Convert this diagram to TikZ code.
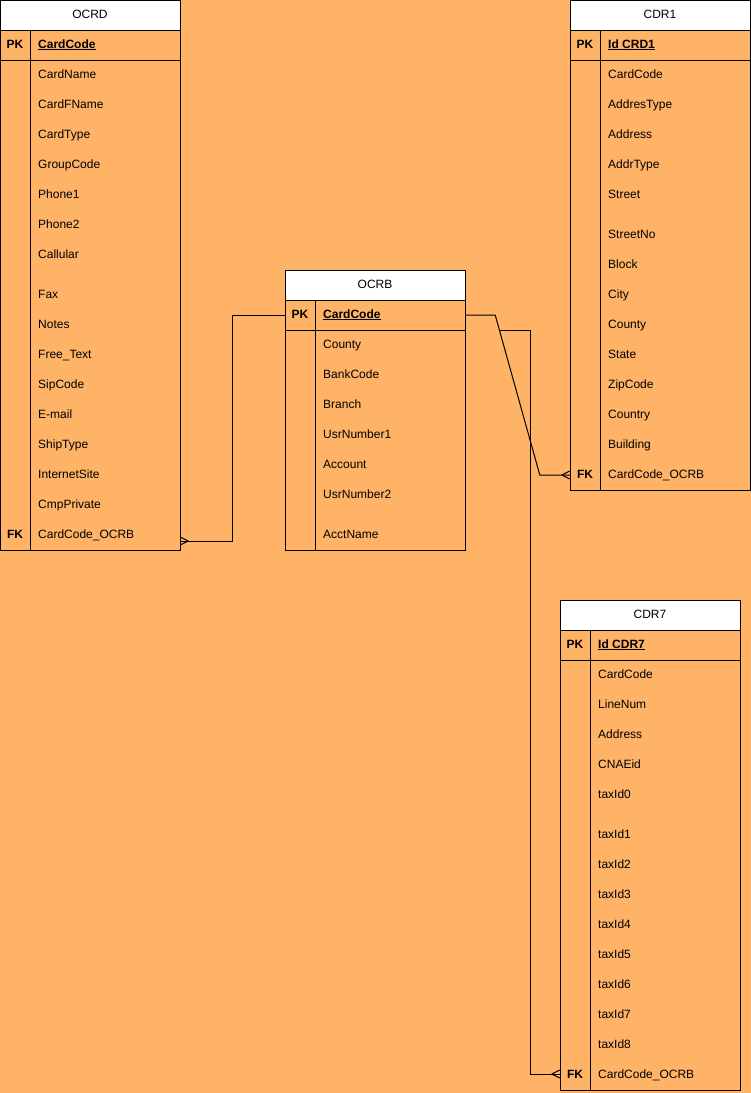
\documentclass[tikz,border=0pt]{standalone}
\usepackage{fontspec}
\setmainfont{Liberation Sans}
\usetikzlibrary{calc}
\definecolor{bgorange}{HTML}{FFB366}
\tikzset{
  tbl/.style={draw=black,line width=1pt},
  hdr/.style={draw=black,fill=white,line width=1pt},
  sep/.style={draw=black,line width=1pt},
  field/.style={anchor=west,inner sep=0pt,text height=8.6pt,text depth=2.4pt,font=\fontsize{12}{14}\selectfont},
  keylbl/.style={anchor=center,inner sep=0pt,text height=8.6pt,text depth=2.4pt,font=\fontsize{12}{14}\selectfont\bfseries},
  title/.style={anchor=center,inner sep=0pt,text height=8.6pt,text depth=2.4pt,font=\fontsize{12}{14}\selectfont},
  rowbox/.style={draw=none,minimum width=180pt,minimum height=30pt,inner sep=0pt},
  conn/.style={draw=black,line width=1pt},
}
\begin{document}
\begin{tikzpicture}[x=1pt,y=-1pt]
\fill[bgorange] (0,0) rectangle (751,1093);
\useasboundingbox (0,0) rectangle (751,1093);

% ---------------- OCRD ----------------
\draw[tbl] (0.5,0.5) rectangle (180,550);
\draw[hdr] (0.5,0.5) rectangle (180,30);
\draw[sep] (0.5,60) -- (180,60);
\draw[sep] (30,30) -- (30,550);
\node[title] (ocrd) at (90,15) {OCRD};
\node[keylbl] (ocrd-pkl) at (15,45) {PK};
\node[field] (ocrd-pk) at (38,45) {\bfseries\underline{CardCode}};
\foreach \t/\y [count=\i] in {CardName/75,CardFName/105,CardType/135,GroupCode/165,Phone1/195,Phone2/225,Callular/255,Fax/295,Notes/325,Free\_Text/355,SipCode/385,E-mail/415,ShipType/445,InternetSite/475,CmpPrivate/505}
  \node[field] (ocrd-r\i) at (38,\y) {\t};
\node[keylbl] (ocrd-fkl) at (15,535) {FK};
\node[field] (ocrd-fk) at (38,535) {CardCode\_OCRB};
\node[rowbox] (ocrd-fkrow) at (90,535) {};

% ---------------- OCRB ----------------
\draw[tbl] (285,270) rectangle (465,550);
\draw[hdr] (285,270) rectangle (465,300);
\draw[sep] (285,330) -- (465,330);
\draw[sep] (315,300) -- (315,550);
\node[title] (ocrb) at (375,285) {OCRB};
\node[keylbl] (ocrb-pkl) at (300,315) {PK};
\node[field] (ocrb-pk) at (323,315) {\bfseries\underline{CardCode}};
\foreach \t/\y [count=\i] in {County/345,BankCode/375,Branch/405,UsrNumber1/435,Account/465,UsrNumber2/495,AcctName/535}
  \node[field] (ocrb-r\i) at (323,\y) {\t};
\node[rowbox] (ocrb-pkrow) at (375,315) {};

% ---------------- CDR1 ----------------
\draw[tbl] (570,0.5) rectangle (750,490);
\draw[hdr] (570,0.5) rectangle (750,30);
\draw[sep] (570,60) -- (750,60);
\draw[sep] (600,30) -- (600,490);
\node[title] (cdr1) at (660,15) {CDR1};
\node[keylbl] (cdr1-pkl) at (585,45) {PK};
\node[field] (cdr1-pk) at (608,45) {\bfseries\underline{Id CRD1}};
\foreach \t/\y [count=\i] in {CardCode/75,AddresType/105,Address/135,AddrType/165,Street/195,StreetNo/235,Block/265,City/295,County/325,State/355,ZipCode/385,Country/415,Building/445}
  \node[field] (cdr1-r\i) at (608,\y) {\t};
\node[keylbl] (cdr1-fkl) at (585,475) {FK};
\node[field] (cdr1-fk) at (608,475) {CardCode\_OCRB};
\node[rowbox] (cdr1-fkrow) at (660,475) {};

% ---------------- CDR7 ----------------
\draw[tbl] (560,600) rectangle (740,1090);
\draw[hdr] (560,600) rectangle (740,630);
\draw[sep] (560,660) -- (740,660);
\draw[sep] (590,630) -- (590,1090);
\node[title] (cdr7) at (650,615) {CDR7};
\node[keylbl] (cdr7-pkl) at (575,645) {PK};
\node[field] (cdr7-pk) at (598,645) {\bfseries\underline{Id CDR7}};
\foreach \t/\y [count=\i] in {CardCode/675,LineNum/705,Address/735,CNAEid/765,taxId0/795,taxId1/835,taxId2/865,taxId3/895,taxId4/925,taxId5/955,taxId6/985,taxId7/1015,taxId8/1045}
  \node[field] (cdr7-r\i) at (598,\y) {\t};
\node[keylbl] (cdr7-fkl) at (575,1075) {FK};
\node[field] (cdr7-fk) at (598,1075) {CardCode\_OCRB};
\node[rowbox] (cdr7-fkrow) at (650,1074) {};

% ---------------- connectors ----------------
% OCRB -> OCRD
\coordinate (ocrdend) at ($(ocrd-fkrow.east)+(0,6)$);
\draw[conn] (ocrb-pkrow.west) -- ++(-52,0) |- (ocrdend);
\draw[conn] ($(ocrdend)+(8,0)$) -- ($(ocrdend)+(0,-4)$);
\draw[conn] ($(ocrdend)+(8,0)$) -- ($(ocrdend)+(0,4)$);

% OCRB -> CDR1
\coordinate (bend1) at ($(ocrb-pkrow.east)+(30,0)$);
\coordinate (bend2) at ($(cdr1-fkrow.west)+(-30,0)$);
\draw[conn] (ocrb-pkrow.east) -- (bend1) -- (bend2) -- (cdr1-fkrow.west);
\draw[conn] ($(cdr1-fkrow.west)+(-8,0)$) -- ($(cdr1-fkrow.west)+(0,-4)$);
\draw[conn] ($(cdr1-fkrow.west)+(-8,0)$) -- ($(cdr1-fkrow.west)+(0,4)$);

% OCRB -> CDR7
\coordinate (split) at ($(bend1)!0.094!(bend2)$);
\draw[conn] (split) -- ++(31,0) |- (cdr7-fkrow.west);
\draw[conn] ($(cdr7-fkrow.west)+(-8,0)$) -- ($(cdr7-fkrow.west)+(0,-4)$);
\draw[conn] ($(cdr7-fkrow.west)+(-8,0)$) -- ($(cdr7-fkrow.west)+(0,4)$);
\end{tikzpicture}
\end{document}
